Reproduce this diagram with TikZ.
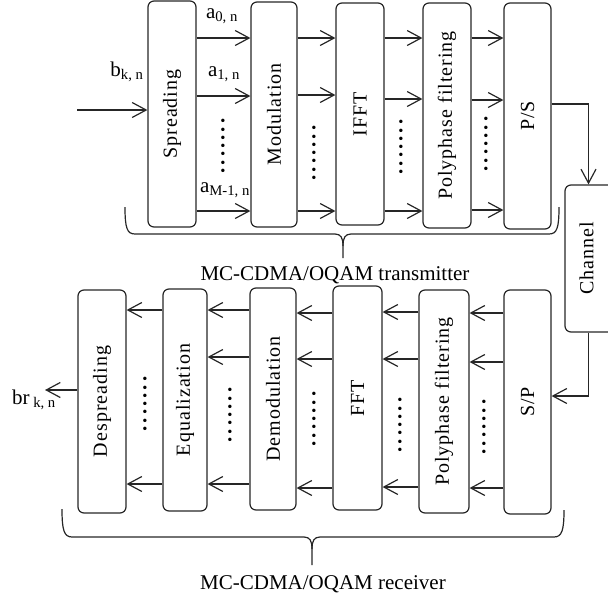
\documentclass[tikz,border=0pt]{standalone}
\usepackage{fontspec}
\setmainfont{Liberation Serif}
\usetikzlibrary{arrows.meta}
\newcommand\mydotcol{\rotatebox{90}{.\kern3pt.\kern3pt.\kern3pt.\kern3pt.\kern3pt.\kern3pt.}}
\begin{document}
\begin{tikzpicture}[x=1pt,y=-1pt,
  >={Straight Barb[length=14pt,width=15pt]},
  blk/.style={draw=black!85, line width=1.2pt, rounded corners=6pt, inner sep=0pt, font=\fontsize{20}{24}\selectfont\addfontfeature{LetterSpace=5}},
  arr/.style={draw=black!85, line width=1.2pt, ->},
  lbl/.style={font=\fontsize{21}{24}\selectfont, inner sep=0pt},
  dts/.style={font=\fontsize{21}{24}\selectfont\bfseries, inner sep=0pt},
  brc/.style={draw=black!85, line width=1.2pt}]
\clip (0,0) rectangle (608,600);
% transmitter blocks
\node[blk, minimum width=48pt, minimum height=226pt] (spread) at (172,114) {\rotatebox{90}{Spreading}};
\node[blk, minimum width=46pt, minimum height=225pt] (mod) at (274,114.5) {\rotatebox{90}{Modulation}};
\node[blk, minimum width=48pt, minimum height=222pt] (ifft) at (360,114) {\rotatebox{90}{IFFT}};
\node[blk, minimum width=48pt, minimum height=225pt] (polyT) at (447,115.5) {\rotatebox{90}{Polyphase filtering}};
\node[blk, minimum width=47pt, minimum height=226pt] (ps) at (527.5,116) {\rotatebox{90}{P/S}};
\node[blk, minimum width=53pt, minimum height=147pt] (chan) at (591.5,258.5) {\rotatebox{90}{Channel}\hspace*{10pt}};
% receiver blocks
\node[blk, minimum width=48pt, minimum height=223pt] (desp) at (102,401.5) {\rotatebox{90}{Despreading}};
\node[blk, minimum width=44pt, minimum height=222pt] (eq) at (185,400) {\rotatebox{90}{Equalization}};
\node[blk, minimum width=46pt, minimum height=222pt] (demod) at (273,399) {\rotatebox{90}{Demodulation}};
\node[blk, minimum width=49pt, minimum height=224pt] (fft) at (357.5,398) {\rotatebox{90}{FFT}};
\node[blk, minimum width=50pt, minimum height=223pt] (polyR) at (444,401.5) {\rotatebox{90}{Polyphase filtering}};
\node[blk, minimum width=47pt, minimum height=224pt] (sp) at (527.5,402) {\rotatebox{90}{S/P}};
% labels
\node[lbl] (bkn) at (127,72) {b\textsubscript{k, n}};
\node[lbl] (a0) at (222,16) {a\textsubscript{0, n}};
\node[lbl] (a1) at (224,74) {a\textsubscript{1, n}};
\node[lbl] (aM) at (225,190) {a\textsubscript{M-1, n}};
\node[lbl, anchor=east] (brkn) at (56,400) {br\textsubscript{ k, n}};
\node[lbl] (txl) at (335,275) {MC-CDMA/OQAM transmitter};
\node[lbl] (rxl) at (323,584) {MC-CDMA/OQAM receiver};
% dots
\node[dts] (d1) at (223,146) {\mydotcol};
\node[dts] (d2) at (314,153) {\mydotcol};
\node[dts] (d3) at (401,147) {\mydotcol};
\node[dts] (d4) at (486,144) {\mydotcol};
\node[dts] (d5) at (145,404) {\mydotcol};
\node[dts] (d6) at (230,415) {\mydotcol};
\node[dts] (d7) at (314,419) {\mydotcol};
\node[dts] (d8) at (400,425) {\mydotcol};
\node[dts] (d9) at (484,427) {\mydotcol};
% input / output
\coordinate (in) at (77,110);
\coordinate (out) at (45,390);
\draw[arr] (in) -- (spread.west |- in);
\draw[arr] (desp.west |- out) -- (out);
% transmitter arrows
\foreach \y in {38,96,211} \draw[arr] (spread.east |- 0,\y) -- (mod.west |- 0,\y);
\foreach \y in {38,95,211} \draw[arr] (mod.east |- 0,\y) -- (ifft.west |- 0,\y);
\foreach \y in {38,99,211} \draw[arr] (ifft.east |- 0,\y) -- (polyT.west |- 0,\y);
\foreach \y in {38,100,210} \draw[arr] (polyT.east |- 0,\y) -- (ps.west |- 0,\y);
\draw[arr] (ps.east |- 0,104) -| ([xshift=-3pt]chan.north);
\draw[arr] ([xshift=-3pt]chan.south) |- (sp.east |- 0,396);
% receiver arrows
\foreach \y in {313,362,488} \draw[arr] (sp.west |- 0,\y) -- (polyR.east |- 0,\y);
\foreach \y in {312,359,487} \draw[arr] (polyR.west |- 0,\y) -- (fft.east |- 0,\y);
\foreach \y in {313,359,488} \draw[arr] (fft.west |- 0,\y) -- (demod.east |- 0,\y);
\foreach \y in {310,357,484} \draw[arr] (demod.west |- 0,\y) -- (eq.east |- 0,\y);
\foreach \y in {310,484} \draw[arr] (eq.west |- 0,\y) -- (desp.east |- 0,\y);
% braces
\draw[brc] (125,207) .. controls (125,228) and (127,234) .. (135,234) -- (335,234)
  .. controls (341,234) and (343,238) .. (343,246) -- (343,258);
\draw[brc] (343,246) .. controls (343,238) and (345,234) .. (351,234) -- (549,234)
  .. controls (557,234) and (559,228) .. (559,207);
\draw[brc] (62,509) .. controls (62,530) and (64,537) .. (72,537) -- (304,537)
  .. controls (310,537) and (312,541) .. (312,549) -- (312,565);
\draw[brc] (312,549) .. controls (312,541) and (314,537) .. (320,537) -- (554,537)
  .. controls (562,537) and (564,530) .. (564,510);
\end{tikzpicture}
\end{document}
